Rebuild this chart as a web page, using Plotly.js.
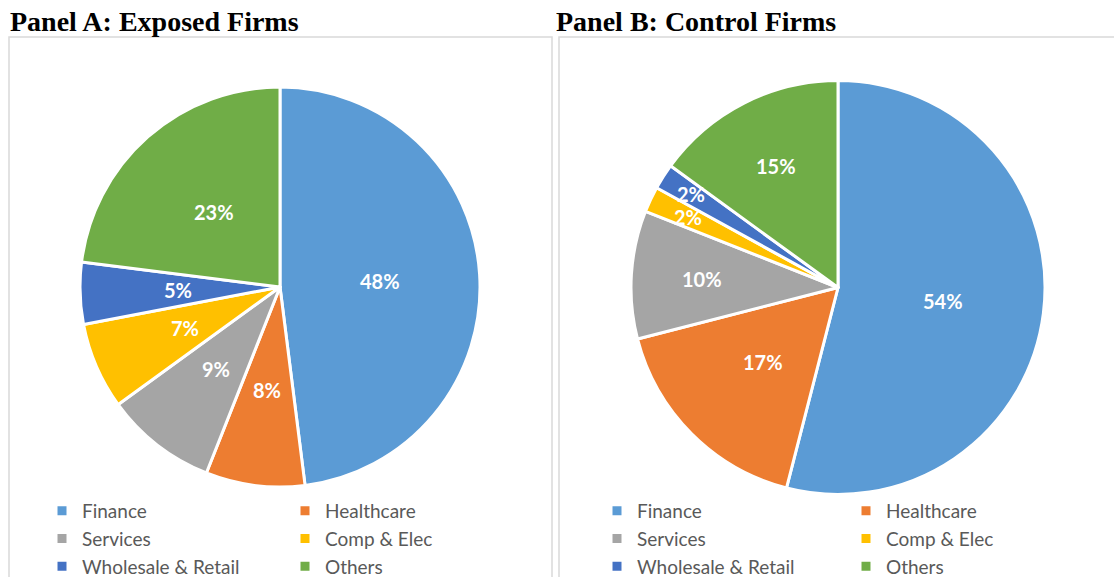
<!DOCTYPE html>
<html><head><meta charset="utf-8">
<script src="https://cdn.plot.ly/plotly-3.0.1.min.js"></script>
<style>
body{margin:0;background:#fff;overflow:hidden}
#panelA{position:absolute;left:0;top:0;width:556px;height:577px}
#panelB{position:absolute;left:556px;top:0;width:558px;height:577px}
</style>
</head><body>
<div id="panelA"></div><div id="panelB"></div>
<script>
const categories = ['Finance', 'Healthcare', 'Services', 'Comp & Elec', 'Wholesale & Retail', 'Others'];
const sliceColors = ['#5B9BD5', '#ED7D31', '#A5A5A5', '#FFC000', '#4472C4', '#70AD47'];
const exposedShares = [48, 8, 9, 7, 5, 23];
const controlShares = [54, 17, 10, 2, 2, 15];
const panelTitles = ['Panel A: Exposed Firms', 'Panel B: Control Firms'];
// label distance from centre, as a fraction of the radius (style only)
const exposedLabelRadius = [0.5, 0.52, 0.52, 0.52, 0.51, 0.5];
const controlLabelRadius = [0.51, 0.51, 0.66, 0.8, 0.84, 0.66];

const H = 577;
function drawPanel(divId, W, values, labelRadius, title, p) {
  const trace = {
    type: 'pie',
    labels: categories,
    values: values,
    sort: false,
    direction: 'clockwise',
    rotation: 0,
    marker: {colors: sliceColors, line: {color: '#ffffff', width: 3}},
    textinfo: 'none',
    domain: {
      x: [(p.cx - p.r) / W, (p.cx + p.r) / W],
      y: [1 - (p.cy + p.r) / H, 1 - (p.cy - p.r) / H]
    },
    hoverinfo: 'none'
  };
  // percentage labels placed at each slice's mid-angle
  const total = values.reduce((a, b) => a + b, 0);
  let cum = 0;
  const annotations = values.map((v, i) => {
    const mid = (cum + v / 2) / total;
    cum += v;
    const th = 2 * Math.PI * mid;
    const px = p.cx + labelRadius[i] * p.r * Math.sin(th);
    const py = p.cy - labelRadius[i] * p.r * Math.cos(th);
    return {
      xref: 'paper', yref: 'paper', x: px / W, y: 1 - py / H,
      xanchor: 'center', yanchor: 'middle', showarrow: false,
      text: Math.round(v / total * 100) + '%',
      font: {family: 'Lato', size: 20, color: '#ffffff', weight: 'bold'}
    };
  });
  const layout = {
    width: W, height: H,
    margin: {l: 0, r: 0, t: 0, b: 0, pad: 0, autoexpand: false},
    paper_bgcolor: '#ffffff',
    showlegend: true,
    title: {
      text: title,
      font: {family: 'Liberation Serif', size: 28, color: '#000000', weight: 'bold'},
      xref: 'container', yref: 'container',
      x: p.tx / W, xanchor: 'left',
      y: 1 - 21 / H, yanchor: 'middle'
    },
    legend: {
      orientation: 'h',
      x: p.lx / W, xanchor: 'left',
      y: 1 - p.ly / H, yanchor: 'top',
      entrywidth: p.ew, entrywidthmode: 'pixels',
      font: {family: 'Lato', size: 19, color: '#595959'},
      bgcolor: 'rgba(0,0,0,0)',
      traceorder: 'normal'
    },
    annotations: annotations,
    shapes: [{
      type: 'rect', xref: 'paper', yref: 'paper',
      x0: p.bx0 / W, x1: p.bx1 / W, y0: -0.2, y1: 1 - 37 / H,
      line: {color: '#d9d9d9', width: 1.5}, fillcolor: 'rgba(0,0,0,0)', layer: 'below'
    }]
  };
  Plotly.newPlot(divId, [trace], layout, {displayModeBar: false, staticPlot: true});
}

drawPanel('panelA', 556, exposedShares, exposedLabelRadius, panelTitles[0],
  {cx: 280, cy: 287, r: 200, tx: 10, lx: 42, ly: 492, ew: 198, bx0: 9, bx1: 552});
drawPanel('panelB', 558, controlShares, controlLabelRadius, panelTitles[1],
  {cx: 282, cy: 287.5, r: 207, tx: 0, lx: 41, ly: 492, ew: 204, bx0: 3, bx1: 600});
</script>
</body></html>
